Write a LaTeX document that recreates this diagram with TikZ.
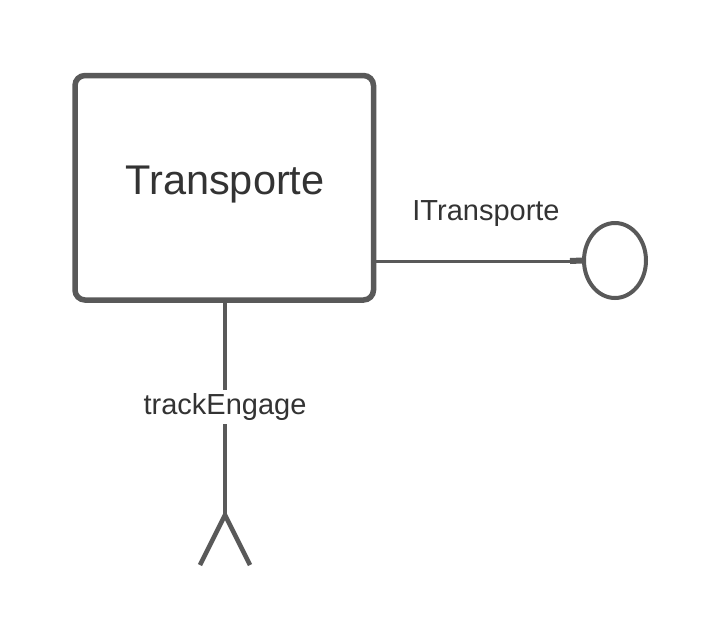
\documentclass[tikz,border=0pt]{standalone}
\usepackage{fontspec}
\setmainfont{Liberation Sans}
\usetikzlibrary{shapes.geometric}
\definecolor{linegray}{HTML}{595959}
\definecolor{textgray}{HTML}{333333}
\begin{document}
\begin{tikzpicture}[x=1pt,y=-1pt,
  compbox/.style={draw=linegray,line width=5.5pt,rounded corners=10pt,minimum width=298.5pt,minimum height=224.5pt,inner sep=0pt},
  title/.style={text=textgray,font=\fontsize{41.5}{46}\selectfont,inner sep=0pt},
  lollipop/.style={draw=linegray,line width=4pt,ellipse,minimum width=62pt,minimum height=75pt,inner sep=0pt},
  conn/.style={draw=linegray,line width=3pt},
  reqline/.style={draw=linegray,line width=4pt},
  stub/.style={draw=linegray,line width=6pt},
  lbl/.style={text=textgray,font=\fontsize{29}{34}\selectfont,inner sep=2pt},
  lblbg/.style={lbl,fill=white,inner sep=3pt}]
\useasboundingbox (0,0) rectangle (720,643);
\node[compbox] (box) at (224.25,187.75) {};
\node[title] (name) at (225,185) {Transporte};
\node[lollipop] (ball) at (615,260.5) {};
\coordinate (stubstart) at (570,261);
\coordinate (tip) at (225,515);
\coordinate (legl) at (200,565);
\coordinate (legr) at (250,565);
\draw[conn] (box.east |- stubstart) -- (stubstart);
\draw[stub] (stubstart) -- (ball.west);
\draw[reqline] (box.south -| tip) -- (tip);
\draw[reqline,line width=4.5pt,line join=miter] (legl) -- (tip) -- (legr);
\node[lbl] (ilabel) at (486,214) {ITransporte};
\node[lblbg] (rlabel) at (225,407) {trackEngage};
\end{tikzpicture}
\end{document}
